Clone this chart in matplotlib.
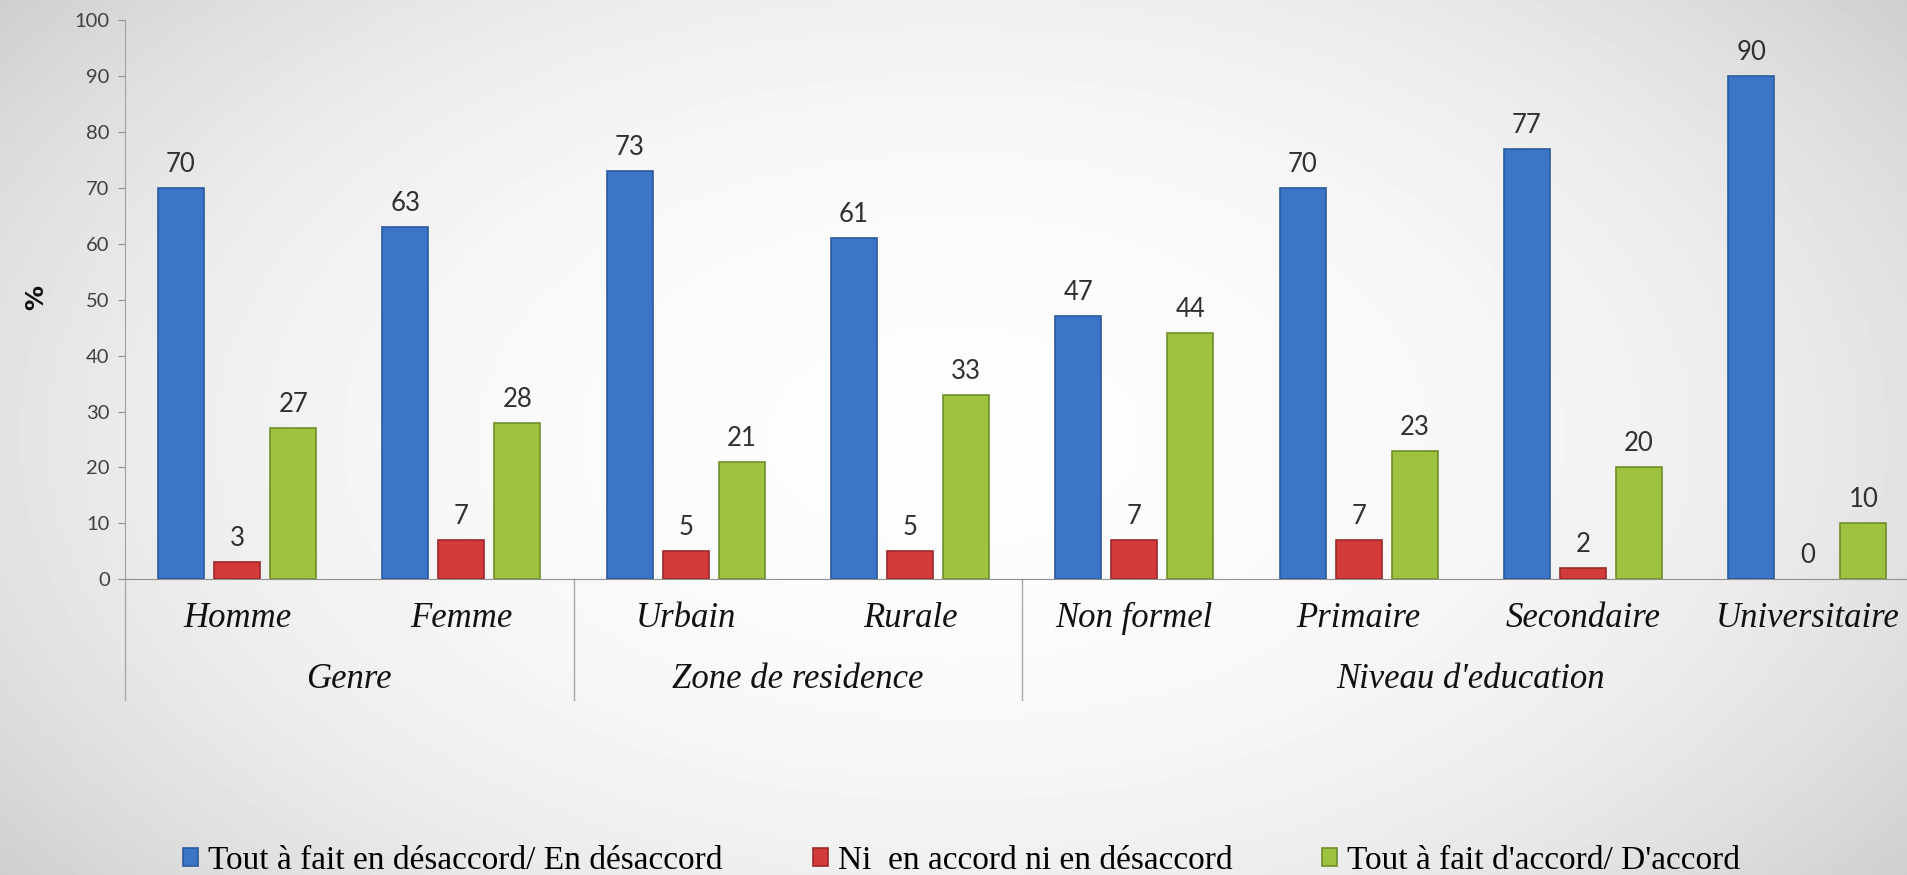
import matplotlib
matplotlib.use('Agg')
import matplotlib.pyplot as plt
import numpy as np

# data
categories = ['Homme', 'Femme', 'Urbain', 'Rurale', 'Non formel', 'Primaire', 'Secondaire', 'Universitaire']
groups = ['Genre', 'Zone de residence', "Niveau d'education"]
group_sizes = [2, 2, 4]
desaccord = [70, 63, 73, 61, 47, 70, 77, 90]
neutre = [3, 7, 5, 5, 7, 7, 2, 0]
accord = [27, 28, 21, 33, 44, 23, 20, 10]
series_names = ["Tout à fait en désaccord/ En désaccord",
                "Ni  en accord ni en désaccord",
                "Tout à fait d'accord/ D'accord"]
yticks = [0, 10, 20, 30, 40, 50, 60, 70, 80, 90, 100]

colors = ['#3b76c6', '#d33a3a', '#9cc240']
edges = ['#2b5a9c', '#9c2a2a', '#6e8f2a']

fig = plt.figure(figsize=(19.07, 8.75), dpi=100)

# soft grey background, lighter in the middle
bg = fig.add_axes([0, 0, 1, 1], zorder=-10)
gx, gy = np.meshgrid(np.linspace(-1, 1, 400), np.linspace(-1, 1, 200))
r = np.sqrt((gx / 1.0) ** 2 + (gy / 1.3) ** 2)
shade = 0.99 - 0.10 * np.clip(r, 0, 1.4) ** 2.5
bg.imshow(shade, cmap='gray', vmin=0, vmax=1, aspect='auto', extent=[0, 1, 0, 1])
bg.axis('off')

ax = fig.add_axes([0.0655, 0.338, 0.941, 0.639])
ax.patch.set_alpha(0)

x = np.arange(len(categories)) + 0.5
w = 0.205
step = 0.25
all_series = [desaccord, neutre, accord]
for i, vals in enumerate(all_series):
    pos = x + (i - 1) * step
    lw = [1.2 if v > 0 else 0 for v in vals]
    bars = ax.bar(pos, vals, width=w, color=colors[i], edgecolor=edges[i],
                  linewidth=lw, label=series_names[i], zorder=3)
    for b, v in zip(bars, vals):
        ax.annotate(str(v), (b.get_x() + b.get_width() / 2, v), xytext=(0, 8),
                    textcoords='offset points', ha='center', va='bottom',
                    fontsize=18.5, color='#303030', family='Lato')

ax.set_xlim(0, len(categories))
ax.set_ylim(0, 100)
ax.set_yticks(yticks)
ax.set_xticks([])
ax.tick_params(axis='y', length=5, color='#909090', pad=6, labelsize=14.5, labelcolor='#404040')
for lab in ax.get_yticklabels():
    lab.set_family('Lato')
for s in ['top', 'right']:
    ax.spines[s].set_visible(False)
ax.spines['left'].set_color('#a0a0a0')
ax.spines['bottom'].set_color('#909090')

# category and group labels below the axis
for xi, c in zip(x, categories):
    ax.text(xi, -7.0, c, ha='center', va='center', fontsize=25,
            style='italic', family='Liberation Serif', color='#111111')
start = 0
for g, n in zip(groups, group_sizes):
    ax.plot([start, start], [0, -21.6], color='#a8a8a8', lw=1, clip_on=False)
    ax.text(start + n / 2, -17.9, g, ha='center', va='center', fontsize=25,
            style='italic', family='Liberation Serif', color='#111111')
    start += n
ax.plot([start, start], [0, -21.6], color='#a8a8a8', lw=1, clip_on=False)

fig.text(36 / 1907, 0.66, '%', rotation=90, ha='center', va='center',
         fontsize=18, fontweight='bold', family='DejaVu Sans', color='#111111')

leg = fig.legend(loc='center left', bbox_to_anchor=(153 / 1907, 1 - 861 / 875), ncol=3,
                 frameon=False, handlelength=0.45, handleheight=0.45, handletextpad=0.3,
                 columnspacing=2.7, prop={'family': 'Liberation Serif', 'size': 24})

fig.savefig('out.png', dpi=100)
